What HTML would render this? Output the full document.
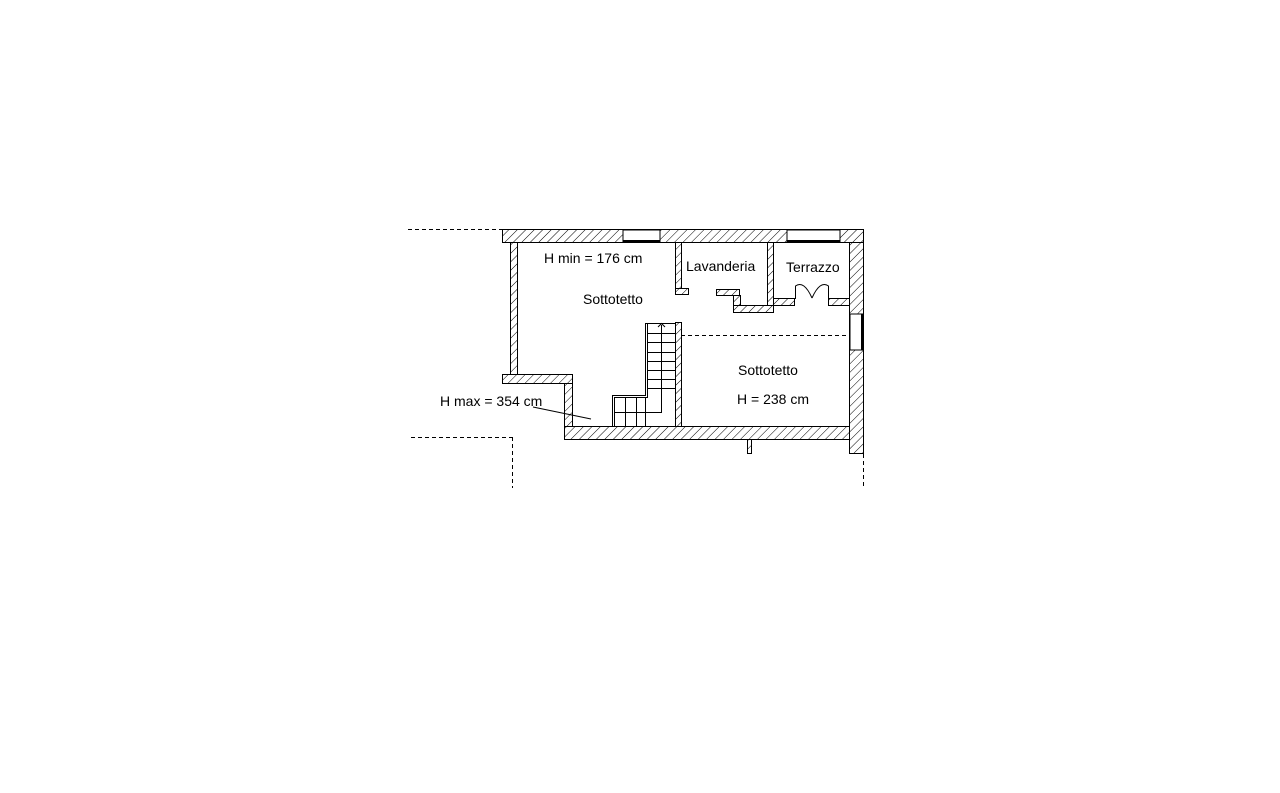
<!DOCTYPE html>
<html><head><meta charset="utf-8"><style>
html,body{margin:0;padding:0;background:#fff;width:1280px;height:793px;overflow:hidden}
svg{display:block}
text{font-family:"Liberation Sans",Arial,sans-serif;font-size:14px;fill:#000}
</style></head><body>
<svg width="1280" height="793" viewBox="0 0 1280 793" xmlns="http://www.w3.org/2000/svg">
<defs>
<pattern id="h" patternUnits="userSpaceOnUse" width="6" height="6" patternTransform="rotate(45)">
<rect width="6" height="6" fill="#fff"/><line x1="0" y1="0" x2="0" y2="6" stroke="#000" stroke-width="1"/>
</pattern>
</defs>
<g stroke="#000" stroke-width="1" fill="url(#h)">
<rect x="502.5" y="229.5" width="361" height="13"/>
<rect x="510.5" y="242.5" width="7" height="132"/>
<rect x="502.5" y="374.5" width="70" height="9"/>
<rect x="564.5" y="383.5" width="8" height="44"/>
<rect x="564.5" y="426.5" width="285" height="13"/>
<rect x="849.5" y="242.5" width="14" height="211"/>
<rect x="675.5" y="242.5" width="6" height="46"/>
<rect x="675.5" y="288.5" width="13" height="6"/>
<rect x="716.5" y="289.5" width="23" height="6"/>
<rect x="733.5" y="295.5" width="7" height="17"/>
<rect x="733.5" y="305.5" width="40" height="7"/>
<rect x="767.5" y="242.5" width="6" height="63"/>
<rect x="773.5" y="298.5" width="21" height="7"/>
<rect x="828.5" y="298.5" width="21" height="7"/>
<rect x="675.5" y="322.5" width="6" height="104"/>
<rect x="747.5" y="439.5" width="4" height="14"/>
</g>
<rect x="623" y="230" width="37" height="12" fill="#fff" stroke="#000"/>
<line x1="623" y1="241" x2="660" y2="241" stroke="#000" stroke-width="2"/>
<rect x="787" y="230" width="53" height="12" fill="#fff" stroke="#000"/>
<line x1="787" y1="241" x2="840" y2="241" stroke="#000" stroke-width="2"/>
<rect x="850" y="314" width="13" height="36" fill="#fff" stroke="#000"/>
<line x1="862" y1="314" x2="862" y2="350" stroke="#000" stroke-width="2"/>
<path d="M795.5 299 L795.5 286 Q804 280 812 298 M828.5 299 L828.5 286 Q820 280 812 298" fill="none" stroke="#000"/>
<g stroke="#000" stroke-dasharray="4,3" fill="none">
<line x1="408" y1="229.5" x2="502" y2="229.5"/>
<line x1="411" y1="437.5" x2="512.5" y2="437.5"/>
<line x1="512.5" y1="437" x2="512.5" y2="488"/>
<line x1="863.5" y1="454" x2="863.5" y2="488"/>
<line x1="681" y1="335.5" x2="849" y2="335.5"/>
</g>
<g stroke="#000" fill="none">
<path d="M645.5 323 V395.5 H612.5 V427"/>
<path d="M647.5 323 V397.5 H614.5 V427"/>
<line x1="645" y1="323.5" x2="676" y2="323.5"/>
<path d="M661.5 325 V412.5 H614"/>
<line x1="625.5" y1="397" x2="625.5" y2="427"/>
<line x1="636.5" y1="397" x2="636.5" y2="427"/>
<line x1="645.5" y1="397" x2="645.5" y2="427"/>
<line x1="647" y1="333.5" x2="676" y2="333.5"/>
<line x1="647" y1="342.5" x2="676" y2="342.5"/>
<line x1="647" y1="352.5" x2="676" y2="352.5"/>
<line x1="647" y1="361.5" x2="676" y2="361.5"/>
<line x1="647" y1="370.5" x2="676" y2="370.5"/>
<line x1="647" y1="379.5" x2="676" y2="379.5"/>
<line x1="647" y1="388.5" x2="676" y2="388.5"/>
<path d="M658 327 L661.5 323.5 L665 327"/>
<line x1="533" y1="407" x2="591" y2="419"/>
</g>
<text x="544" y="263">H min = 176 cm</text>
<text x="583" y="304">Sottotetto</text>
<text x="686" y="271">Lavanderia</text>
<text x="786" y="272">Terrazzo</text>
<text x="738" y="375">Sottotetto</text>
<text x="737" y="404">H = 238 cm</text>
<text x="440" y="406">H max = 354 cm</text>
</svg>
</body></html>
